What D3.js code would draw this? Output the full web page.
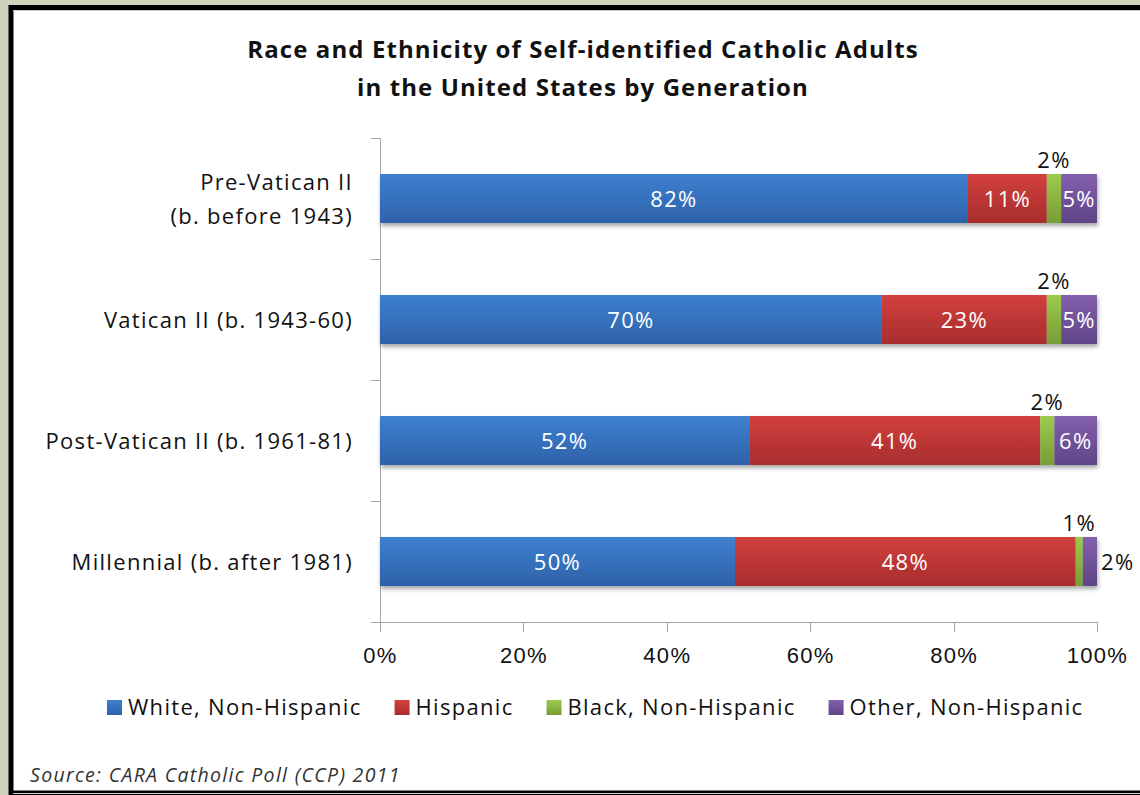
<!DOCTYPE html>
<html>
<head>
<meta charset="utf-8">
<script src="https://cdn.jsdelivr.net/npm/d3@7"></script>
<style>
  body { margin: 0; background: #cdd3bd; }
  svg { display: block; font-family: "Open Sans", Lato, sans-serif; }
</style>
</head>
<body>
<script>
// chart values
var generations = ["Pre-Vatican II|(b. before 1943)", "Vatican II (b. 1943-60)", "Post-Vatican II (b. 1961-81)", "Millennial (b. after 1981)"];
var groups = ["White, Non-Hispanic", "Hispanic", "Black, Non-Hispanic", "Other, Non-Hispanic"];
var white = [82, 70, 52, 50];
var hispanic = [11, 23, 41, 48];
var black = [2, 2, 2, 1];
var other = [5, 5, 6, 2];
var xTicks = [0, 0.2, 0.4, 0.6, 0.8, 1];

var width = 1140,
    height = 795,
    fontSize = 22,
    spacing = 1.3;

var colors = {
  "White, Non-Hispanic": ["#3e80d0", "#2d62a8"],
  "Hispanic": ["#d2403e", "#a82d2d"],
  "Black, Non-Hispanic": ["#9dcb4d", "#789c36"],
  "Other, Non-Hispanic": ["#8360ae", "#5f4587"]
};

var svg = d3.select("body")
  .append("svg")
  .attr("width", width)
  .attr("height", height);

// frame
svg.append("rect").attr("x", 11).attr("y", 7.5).attr("width", 1140).attr("height", 785.5)
  .attr("fill", "#fff").attr("stroke", "#000").attr("stroke-width", 5);
svg.append("line").attr("x1", 13).attr("x2", width).attr("y1", 10.5).attr("y2", 10.5)
  .attr("stroke", "#c8c8c8");
svg.append("line").attr("x1", 13).attr("x2", width).attr("y1", 793.5).attr("y2", 793.5)
  .attr("stroke", "#c8c8c8");

var defs = svg.append("defs");
groups.forEach(function(g, i) {
  var grad = defs.append("linearGradient")
    .attr("id", "grad" + i)
    .attr("x1", 0).attr("y1", 0).attr("x2", 0).attr("y2", 1);
  grad.append("stop").attr("offset", "0%").attr("stop-color", colors[g][0]);
  grad.append("stop").attr("offset", "100%").attr("stop-color", colors[g][1]);
});
var shadow = defs.append("filter").attr("id", "shadow")
  .attr("x", "-5%").attr("y", "-20%").attr("width", "110%").attr("height", "150%");
shadow.append("feDropShadow").attr("dx", 1).attr("dy", 3).attr("stdDeviation", 2)
  .attr("flood-color", "#000").attr("flood-opacity", 0.35);

// title
svg.append("text")
  .attr("x", 583).attr("y", 58)
  .attr("text-anchor", "middle")
  .attr("font-size", 24).attr("font-weight", "bold").attr("fill", "#111")
  .attr("letter-spacing", 1.1)
  .selectAll("tspan")
  .data(["Race and Ethnicity of Self-identified Catholic Adults", "in the United States by Generation"])
  .enter().append("tspan")
    .attr("x", 583)
    .attr("dy", function(d, i) { return i ? 38 : 0; })
    .text(function(d) { return d; });

var rows = generations.map(function(g, i) {
  return {
    name: g,
    "White, Non-Hispanic": white[i],
    "Hispanic": hispanic[i],
    "Black, Non-Hispanic": black[i],
    "Other, Non-Hispanic": other[i]
  };
});

var series = d3.stack()
  .keys(groups)
  .offset(d3.stackOffsetExpand)(rows);

var x = d3.scaleLinear()
  .domain([0, 1])
  .range([380, 1097]);

var y = d3.scaleBand()
  .domain(generations)
  .range([138, 622])
  .paddingInner(0.595)
  .paddingOuter(0.2975);

var band = (622 - 138) / generations.length;

// axes
var axis = svg.append("g").attr("stroke", "#a6a6a6").attr("shape-rendering", "crispEdges");
axis.append("line").attr("x1", 380.5).attr("x2", 380.5).attr("y1", 138).attr("y2", 622);
axis.selectAll(".ytick")
  .data(d3.range(generations.length + 1))
  .enter().append("line")
    .attr("x1", 371).attr("x2", 380)
    .attr("y1", function(d) { return 138.5 + d * band; })
    .attr("y2", function(d) { return 138.5 + d * band; });
axis.append("line").attr("x1", 371).attr("x2", 1098).attr("y1", 622.5).attr("y2", 622.5);

var xAxis = svg.append("g")
  .attr("transform", "translate(0,622.5)")
  .call(d3.axisBottom(x)
    .tickValues(xTicks)
    .tickSize(9)
    .tickPadding(16)
    .tickFormat(d3.format(".0%")));
xAxis.select(".domain").remove();
xAxis.selectAll("line").attr("stroke", "#a6a6a6").attr("shape-rendering", "crispEdges");
xAxis.selectAll("text")
  .attr("font-size", fontSize).attr("letter-spacing", spacing)
  .attr("fill", "#111").attr("font-family", null);

// category labels
svg.append("g").selectAll("text")
  .data(generations)
  .enter().append("text")
    .attr("text-anchor", "end")
    .attr("font-size", fontSize)
    .attr("letter-spacing", spacing)
    .attr("fill", "#111")
    .each(function(d) {
      var lines = d.split("|");
      var cy = y(d) + y.bandwidth() / 2;
      d3.select(this).selectAll("tspan")
        .data(lines)
        .enter().append("tspan")
          .attr("x", 353)
          .attr("y", function(l, i) { return cy + 8 + (i - (lines.length - 1) / 2) * 34; })
          .text(function(l) { return l; });
    });

// bars
var layers = svg.append("g").attr("filter", "url(#shadow)")
  .selectAll("g")
  .data(series)
  .enter().append("g")
    .attr("fill", function(d, i) { return "url(#grad" + i + ")"; });

layers.selectAll("rect")
  .data(function(d) { return d; })
  .enter().append("rect")
    .attr("x", function(d) { return x(d[0]); })
    .attr("y", function(d) { return y(d.data.name); })
    .attr("width", function(d) { return x(d[1]) - x(d[0]); })
    .attr("height", y.bandwidth());

// value labels
var labels = svg.append("g").attr("font-size", fontSize).attr("letter-spacing", spacing);
series.forEach(function(s) {
  s.forEach(function(d) {
    var v = d.data[s.key];
    var cx = (x(d[0]) + x(d[1])) / 2;
    var top = y(d.data.name);
    var t = labels.append("text").text(v + "%");
    if (s.key === "Black, Non-Hispanic") {
      t.attr("x", cx).attr("y", top - 6).attr("text-anchor", "middle").attr("fill", "#111");
    } else if (x(d[1]) - x(d[0]) < 30) {
      t.attr("x", x(d[1]) + 4).attr("y", top + y.bandwidth() / 2 + 8).attr("fill", "#111");
    } else {
      t.attr("x", cx).attr("y", top + y.bandwidth() / 2 + 8).attr("text-anchor", "middle").attr("fill", "#fff");
    }
  });
});

// legend, laid out left to right from the text widths
var legend = svg.append("g").attr("transform", "translate(107,700)");
var lx = 0;
groups.forEach(function(g, i) {
  var item = legend.append("g").attr("transform", "translate(" + lx + ",0)");
  item.append("rect")
    .attr("width", 15).attr("height", 15)
    .attr("fill", "url(#grad" + i + ")");
  var t = item.append("text")
    .attr("x", 21).attr("y", 15)
    .attr("font-size", fontSize).attr("letter-spacing", spacing)
    .attr("fill", "#111")
    .text(g);
  lx += 21 + t.node().getComputedTextLength() + 33;
});

// source
svg.append("text")
  .attr("x", 30).attr("y", 782)
  .attr("font-size", 19.5).attr("font-style", "italic").attr("letter-spacing", 1.3)
  .attr("fill", "#333")
  .text("Source: CARA Catholic Poll (CCP) 2011");
</script>
</body>
</html>
